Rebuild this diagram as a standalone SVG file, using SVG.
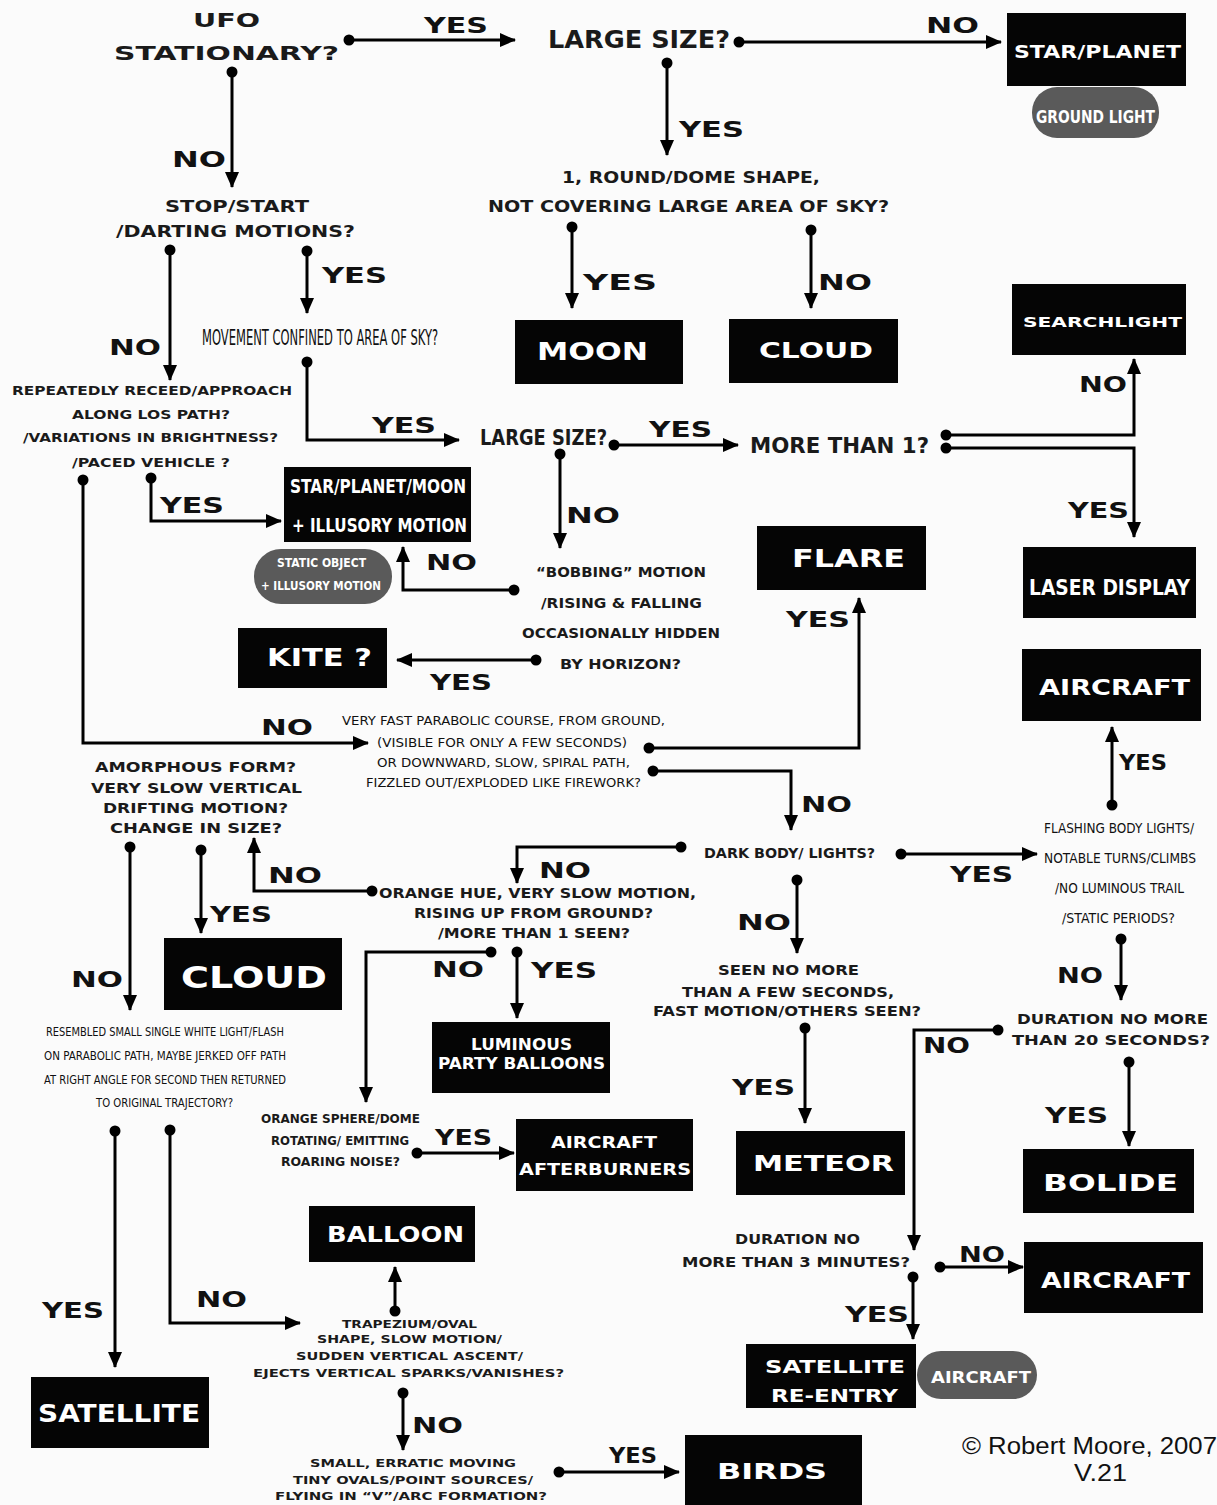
<svg xmlns="http://www.w3.org/2000/svg" width="1217" height="1505" viewBox="0 0 1217 1505">
<style>
.q{font-family:"DejaVu Sans","Liberation Sans",sans-serif;font-weight:bold;fill:#1a1a1a}
.qn{font-family:"DejaVu Sans","Liberation Sans",sans-serif;fill:#111}
.lb{font-family:"DejaVu Sans","Liberation Sans",sans-serif;font-weight:bold;font-size:22px;fill:#111}
.box{fill:#050505}
.pill{fill:#5a5a5a}
.bt{font-family:"DejaVu Sans","Liberation Sans",sans-serif;font-weight:bold;fill:#fff}
.e{fill:none;stroke:#000;stroke-width:3;marker-start:url(#dot);marker-end:url(#arr)}
.cp{font-family:"Liberation Sans",Arial,sans-serif;fill:#111;font-size:23px}
</style>
<defs>
<marker id="arr" viewBox="0 0 16 14" refX="15" refY="7" markerWidth="16" markerHeight="14" markerUnits="userSpaceOnUse" orient="auto"><path d="M0,0 L16,7 L0,14 z" fill="#000"/></marker>
<marker id="dot" viewBox="0 0 12 12" refX="6" refY="6" markerWidth="12" markerHeight="12" markerUnits="userSpaceOnUse"><circle cx="6" cy="6" r="5.5" fill="#000"/></marker>
</defs>
<rect x="0" y="0" width="1217" height="1505" fill="#fbfbfb"/>

<g id="connectors">
<path class="e" d="M349,40 H515"/>
<path class="e" d="M232,72 V187"/>
<path class="e" d="M739,42 H1001"/>
<path class="e" d="M667,63 V155"/>
<path class="e" d="M572,227 V308"/>
<path class="e" d="M811,230 V308"/>
<path class="e" d="M170,250 V380"/>
<path class="e" d="M307,251 V313"/>
<path class="e" d="M307,362 V440 H459"/>
<path class="e" d="M151,478 V521 H281"/>
<path class="e" d="M614,445 H738"/>
<path class="e" d="M946,435 H1134 V359"/>
<path class="e" d="M946,448 H1134 V537"/>
<path class="e" d="M560,454 V548"/>
<path class="e" d="M514,590 H403 V547"/>
<path class="e" d="M536,660 H397"/>
<path class="e" d="M83,480 V743 H368"/>
<path class="e" d="M649,748 H859 V598"/>
<path class="e" d="M653,771 H791 V830"/>
<path class="e" d="M681,847 H517 V883"/>
<path class="e" d="M372,891 H254 V838"/>
<path class="e" d="M130,847 V1010"/>
<path class="e" d="M201,850 V933"/>
<path class="e" d="M901,854 H1037"/>
<path class="e" d="M797,880 V953"/>
<path class="e" d="M1112,805 V727"/>
<path class="e" d="M1121,939 V1000"/>
<path class="e" d="M998,1030 H914 V1250"/>
<path class="e" d="M1129,1062 V1146"/>
<path class="e" d="M805,1028 V1123"/>
<path class="e" d="M491,952 H366 V1102"/>
<path class="e" d="M517,952 V1018"/>
<path class="e" d="M115,1131 V1367"/>
<path class="e" d="M170,1130 V1323 H300"/>
<path class="e" d="M417,1153 H514"/>
<path class="e" d="M395,1311 V1267"/>
<path class="e" d="M403,1393 V1450"/>
<path class="e" d="M559,1472 H679"/>
<path class="e" d="M940,1267 H1023"/>
<path class="e" d="M913,1277 V1339"/>

<text class="lb" x="424" y="33" textLength="64" lengthAdjust="spacingAndGlyphs">YES</text>
<text class="lb" x="926" y="33" textLength="53" lengthAdjust="spacingAndGlyphs">NO</text>
<text class="lb" x="172" y="167" textLength="54" lengthAdjust="spacingAndGlyphs">NO</text>
<text class="lb" x="679" y="137" textLength="65" lengthAdjust="spacingAndGlyphs">YES</text>
<text class="lb" x="583" y="290" textLength="74" lengthAdjust="spacingAndGlyphs">YES</text>
<text class="lb" x="818" y="290" textLength="54" lengthAdjust="spacingAndGlyphs">NO</text>
<text class="lb" x="109" y="355" textLength="52" lengthAdjust="spacingAndGlyphs">NO</text>
<text class="lb" x="322" y="283" textLength="65" lengthAdjust="spacingAndGlyphs">YES</text>
<text class="lb" x="372" y="433" textLength="64" lengthAdjust="spacingAndGlyphs">YES</text>
<text class="lb" x="160" y="513" textLength="64" lengthAdjust="spacingAndGlyphs">YES</text>
<text class="lb" x="649" y="437" textLength="63" lengthAdjust="spacingAndGlyphs">YES</text>
<text class="lb" x="1079" y="392" textLength="48" lengthAdjust="spacingAndGlyphs">NO</text>
<text class="lb" x="1068" y="518" textLength="61" lengthAdjust="spacingAndGlyphs">YES</text>
<text class="lb" x="566" y="523" textLength="54" lengthAdjust="spacingAndGlyphs">NO</text>
<text class="lb" x="426" y="570" textLength="51" lengthAdjust="spacingAndGlyphs">NO</text>
<text class="lb" x="430" y="690" textLength="62" lengthAdjust="spacingAndGlyphs">YES</text>
<text class="lb" x="786" y="627" textLength="64" lengthAdjust="spacingAndGlyphs">YES</text>
<text class="lb" x="261" y="735" textLength="52" lengthAdjust="spacingAndGlyphs">NO</text>
<text class="lb" x="801" y="812" textLength="51" lengthAdjust="spacingAndGlyphs">NO</text>
<text class="lb" x="539" y="878" textLength="52" lengthAdjust="spacingAndGlyphs">NO</text>
<text class="lb" x="268" y="883" textLength="54" lengthAdjust="spacingAndGlyphs">NO</text>
<text class="lb" x="950" y="882" textLength="63" lengthAdjust="spacingAndGlyphs">YES</text>
<text class="lb" x="737" y="930" textLength="54" lengthAdjust="spacingAndGlyphs">NO</text>
<text class="lb" x="1119" y="770" textLength="48" lengthAdjust="spacingAndGlyphs">YES</text>
<text class="lb" x="1057" y="983" textLength="46" lengthAdjust="spacingAndGlyphs">NO</text>
<text class="lb" x="923" y="1053" textLength="47" lengthAdjust="spacingAndGlyphs">NO</text>
<text class="lb" x="1045" y="1123" textLength="63" lengthAdjust="spacingAndGlyphs">YES</text>
<text class="lb" x="732" y="1095" textLength="63" lengthAdjust="spacingAndGlyphs">YES</text>
<text class="lb" x="71" y="987" textLength="52" lengthAdjust="spacingAndGlyphs">NO</text>
<text class="lb" x="210" y="922" textLength="62" lengthAdjust="spacingAndGlyphs">YES</text>
<text class="lb" x="432" y="977" textLength="52" lengthAdjust="spacingAndGlyphs">NO</text>
<text class="lb" x="531" y="978" textLength="66" lengthAdjust="spacingAndGlyphs">YES</text>
<text class="lb" x="42" y="1318" textLength="62" lengthAdjust="spacingAndGlyphs">YES</text>
<text class="lb" x="196" y="1307" textLength="51" lengthAdjust="spacingAndGlyphs">NO</text>
<text class="lb" x="435" y="1145" textLength="57" lengthAdjust="spacingAndGlyphs">YES</text>
<text class="lb" x="412" y="1433" textLength="51" lengthAdjust="spacingAndGlyphs">NO</text>
<text class="lb" x="609" y="1463" textLength="48" lengthAdjust="spacingAndGlyphs">YES</text>
<text class="lb" x="959" y="1262" textLength="46" lengthAdjust="spacingAndGlyphs">NO</text>
<text class="lb" x="845" y="1322" textLength="64" lengthAdjust="spacingAndGlyphs">YES</text>
</g>

<g id="q-ufo-stationary">
<text class="q" x="193" y="27" font-size="20" textLength="67" lengthAdjust="spacingAndGlyphs">UFO</text>
<text class="q" x="114" y="60" font-size="20" textLength="225" lengthAdjust="spacingAndGlyphs">STATIONARY?</text>
</g>
<g id="q-large-size-1">
<text class="q" x="548" y="48" font-size="25" textLength="182" lengthAdjust="spacingAndGlyphs">LARGE SIZE?</text>
</g>
<g id="r-star-planet">
<rect class="box" x="1007" y="13" width="179" height="73"/>
<text class="bt" x="1014" y="58" font-size="17" textLength="167" lengthAdjust="spacingAndGlyphs">STAR/PLANET</text>
<rect class="pill" x="1032" y="87" width="127" height="51" rx="25"/>
<text class="bt" x="1036" y="123" font-size="18" textLength="119" lengthAdjust="spacingAndGlyphs">GROUND LIGHT</text>
</g>
<g id="q-round-dome">
<text class="q" x="562" y="183" font-size="15.5" textLength="258" lengthAdjust="spacingAndGlyphs">1, ROUND/DOME SHAPE,</text>
<text class="q" x="488" y="212" font-size="15.5" textLength="401" lengthAdjust="spacingAndGlyphs">NOT COVERING LARGE AREA OF SKY?</text>
</g>
<g id="q-stop-start">
<text class="q" x="165" y="212" font-size="15" textLength="144" lengthAdjust="spacingAndGlyphs">STOP/START</text>
<text class="q" x="116" y="237" font-size="15" textLength="239" lengthAdjust="spacingAndGlyphs">/DARTING MOTIONS?</text>
</g>
<g id="r-moon">
<rect class="box" x="515" y="320" width="168" height="64"/>
<text class="bt" x="537" y="360" font-size="25" textLength="111" lengthAdjust="spacingAndGlyphs">MOON</text>
</g>
<g id="r-cloud-1">
<rect class="box" x="729" y="319" width="169" height="64"/>
<text class="bt" x="759" y="358" font-size="21.5" textLength="114" lengthAdjust="spacingAndGlyphs">CLOUD</text>
</g>
<g id="q-movement-confined">
<text class="qn" transform="translate(202,345) scale(0.52,1)" x="0" y="0" font-size="22" textLength="454" lengthAdjust="spacingAndGlyphs">MOVEMENT CONFINED TO AREA OF SKY?</text>
</g>
<g id="r-searchlight">
<rect class="box" x="1012" y="284" width="174" height="71"/>
<text class="bt" x="1023" y="327" font-size="14.5" textLength="159" lengthAdjust="spacingAndGlyphs">SEARCHLIGHT</text>
</g>
<g id="q-repeatedly">
<text class="q" x="12" y="395" font-size="13" textLength="280" lengthAdjust="spacingAndGlyphs">REPEATEDLY RECEED/APPROACH</text>
<text class="q" x="72" y="419" font-size="13" textLength="158" lengthAdjust="spacingAndGlyphs">ALONG LOS PATH?</text>
<text class="q" x="23" y="442" font-size="13" textLength="255" lengthAdjust="spacingAndGlyphs">/VARIATIONS IN BRIGHTNESS?</text>
<text class="q" x="72" y="467" font-size="13" textLength="158" lengthAdjust="spacingAndGlyphs">/PACED VEHICLE ?</text>
</g>
<g id="q-large-size-2">
<text class="q" x="480" y="445" font-size="20.5" textLength="127" lengthAdjust="spacingAndGlyphs">LARGE SIZE?</text>
</g>
<g id="q-more-than-1">
<text class="q" x="750" y="453" font-size="22" textLength="179" lengthAdjust="spacingAndGlyphs">MORE THAN 1?</text>
</g>
<g id="r-star-planet-moon">
<rect class="box" x="284" y="467" width="187" height="75"/>
<text class="bt" x="290" y="493" font-size="19" textLength="176" lengthAdjust="spacingAndGlyphs">STAR/PLANET/MOON</text>
<text class="bt" x="292" y="532" font-size="19" textLength="175" lengthAdjust="spacingAndGlyphs">+ ILLUSORY MOTION</text>
<rect class="pill" x="254" y="549" width="138" height="55" rx="27"/>
<text class="bt" x="277" y="567" font-size="12" textLength="89" lengthAdjust="spacingAndGlyphs">STATIC OBJECT</text>
<text class="bt" x="261" y="590" font-size="12" textLength="120" lengthAdjust="spacingAndGlyphs">+ ILLUSORY MOTION</text>
</g>
<g id="r-laser-display">
<rect class="box" x="1023" y="547" width="173" height="71"/>
<text class="bt" x="1029" y="595" font-size="21" textLength="161" lengthAdjust="spacingAndGlyphs">LASER DISPLAY</text>
</g>
<g id="r-flare">
<rect class="box" x="757" y="526" width="169" height="64"/>
<text class="bt" x="792" y="567" font-size="24" textLength="113" lengthAdjust="spacingAndGlyphs">FLARE</text>
</g>
<g id="q-bobbing">
<text class="q" x="536" y="577" font-size="14.5" textLength="170" lengthAdjust="spacingAndGlyphs">“BOBBING” MOTION</text>
<text class="q" x="541" y="608" font-size="14.5" textLength="161" lengthAdjust="spacingAndGlyphs">/RISING &amp; FALLING</text>
<text class="q" x="522" y="638" font-size="14.5" textLength="198" lengthAdjust="spacingAndGlyphs">OCCASIONALLY HIDDEN</text>
<text class="q" x="560" y="669" font-size="14.5" textLength="121" lengthAdjust="spacingAndGlyphs">BY  HORIZON?</text>
</g>
<g id="r-kite">
<rect class="box" x="238" y="628" width="149" height="60"/>
<text class="bt" x="267" y="666" font-size="24" textLength="105" lengthAdjust="spacingAndGlyphs">KITE ?</text>
</g>
<g id="r-aircraft-1">
<rect class="box" x="1022" y="649" width="179" height="72"/>
<text class="bt" x="1039" y="695" font-size="22" textLength="151" lengthAdjust="spacingAndGlyphs">AIRCRAFT</text>
</g>
<g id="q-parabolic">
<text class="qn" x="342" y="725" font-size="11.5" textLength="323" lengthAdjust="spacingAndGlyphs">VERY FAST PARABOLIC COURSE, FROM GROUND,</text>
<text class="qn" x="377" y="747" font-size="11.5" textLength="250" lengthAdjust="spacingAndGlyphs">(VISIBLE FOR ONLY A FEW SECONDS)</text>
<text class="qn" x="377" y="767" font-size="11.5" textLength="253" lengthAdjust="spacingAndGlyphs">OR DOWNWARD, SLOW, SPIRAL PATH,</text>
<text class="qn" x="366" y="787" font-size="11.5" textLength="275" lengthAdjust="spacingAndGlyphs">FIZZLED OUT/EXPLODED LIKE FIREWORK?</text>
</g>
<g id="q-amorphous">
<text class="q" x="95" y="772" font-size="14.5" textLength="201" lengthAdjust="spacingAndGlyphs">AMORPHOUS FORM?</text>
<text class="q" x="91" y="793" font-size="14.5" textLength="211" lengthAdjust="spacingAndGlyphs">VERY SLOW VERTICAL</text>
<text class="q" x="103" y="813" font-size="14.5" textLength="185" lengthAdjust="spacingAndGlyphs">DRIFTING MOTION?</text>
<text class="q" x="110" y="833" font-size="14.5" textLength="172" lengthAdjust="spacingAndGlyphs">CHANGE IN SIZE?</text>
</g>
<g id="q-dark-body">
<text class="q" x="704" y="858" font-size="14.5" textLength="171" lengthAdjust="spacingAndGlyphs">DARK  BODY/ LIGHTS?</text>
</g>
<g id="q-orange-hue">
<text class="q" x="379" y="898" font-size="14.5" textLength="317" lengthAdjust="spacingAndGlyphs">ORANGE HUE, VERY SLOW MOTION,</text>
<text class="q" x="414" y="918" font-size="14.5" textLength="239" lengthAdjust="spacingAndGlyphs">RISING UP FROM GROUND?</text>
<text class="q" x="438" y="938" font-size="14.5" textLength="192" lengthAdjust="spacingAndGlyphs">/MORE THAN 1  SEEN?</text>
</g>
<g id="q-flashing">
<text class="qn" x="1044" y="833" font-size="14" textLength="150" lengthAdjust="spacingAndGlyphs">FLASHING BODY LIGHTS/</text>
<text class="qn" x="1044" y="863" font-size="14" textLength="152" lengthAdjust="spacingAndGlyphs">NOTABLE TURNS/CLIMBS</text>
<text class="qn" x="1055" y="893" font-size="14" textLength="129" lengthAdjust="spacingAndGlyphs">/NO LUMINOUS TRAIL</text>
<text class="qn" x="1062" y="923" font-size="14" textLength="113" lengthAdjust="spacingAndGlyphs">/STATIC PERIODS?</text>
</g>
<g id="r-cloud-2">
<rect class="box" x="164" y="938" width="178" height="72"/>
<text class="bt" x="181" y="988" font-size="31" textLength="146" lengthAdjust="spacingAndGlyphs">CLOUD</text>
</g>
<g id="q-seen-no-more">
<text class="q" x="718" y="975" font-size="13.5" textLength="141" lengthAdjust="spacingAndGlyphs">SEEN NO MORE</text>
<text class="q" x="682" y="997" font-size="13.5" textLength="212" lengthAdjust="spacingAndGlyphs">THAN A FEW SECONDS,</text>
<text class="q" x="653" y="1016" font-size="13.5" textLength="268" lengthAdjust="spacingAndGlyphs">FAST MOTION/OTHERS SEEN?</text>
</g>
<g id="q-duration-20">
<text class="q" x="1017" y="1024" font-size="14.5" textLength="191" lengthAdjust="spacingAndGlyphs">DURATION NO MORE</text>
<text class="q" x="1012" y="1045" font-size="14.5" textLength="198" lengthAdjust="spacingAndGlyphs">THAN 20 SECONDS?</text>
</g>
<g id="r-party-balloons">
<rect class="box" x="432" y="1022" width="178" height="71"/>
<text class="bt" x="471" y="1050" font-size="15" textLength="101" lengthAdjust="spacingAndGlyphs">LUMINOUS</text>
<text class="bt" x="438" y="1069" font-size="15" textLength="167" lengthAdjust="spacingAndGlyphs">PARTY BALLOONS</text>
</g>
<g id="q-resembled">
<text class="qn" x="46" y="1036" font-size="13" textLength="238" lengthAdjust="spacingAndGlyphs">RESEMBLED SMALL SINGLE WHITE LIGHT/FLASH</text>
<text class="qn" x="44" y="1060" font-size="13" textLength="242" lengthAdjust="spacingAndGlyphs">ON  PARABOLIC PATH, MAYBE JERKED OFF PATH</text>
<text class="qn" x="44" y="1084" font-size="13" textLength="242" lengthAdjust="spacingAndGlyphs">AT RIGHT ANGLE FOR  SECOND THEN RETURNED</text>
<text class="qn" x="96" y="1107" font-size="13" textLength="137" lengthAdjust="spacingAndGlyphs">TO ORIGINAL TRAJECTORY?</text>
</g>
<g id="q-orange-sphere">
<text class="q" x="261" y="1123" font-size="12.5" textLength="159" lengthAdjust="spacingAndGlyphs">ORANGE SPHERE/DOME</text>
<text class="q" x="271" y="1145" font-size="12.5" textLength="138" lengthAdjust="spacingAndGlyphs">ROTATING/ EMITTING</text>
<text class="q" x="281" y="1166" font-size="12.5" textLength="119" lengthAdjust="spacingAndGlyphs">ROARING NOISE?</text>
</g>
<g id="r-afterburners">
<rect class="box" x="516" y="1119" width="177" height="72"/>
<text class="bt" x="551" y="1148" font-size="16" textLength="106" lengthAdjust="spacingAndGlyphs">AIRCRAFT</text>
<text class="bt" x="519" y="1175" font-size="16" textLength="172" lengthAdjust="spacingAndGlyphs">AFTERBURNERS</text>
</g>
<g id="r-meteor">
<rect class="box" x="736" y="1131" width="169" height="64"/>
<text class="bt" x="753" y="1171" font-size="22" textLength="141" lengthAdjust="spacingAndGlyphs">METEOR</text>
</g>
<g id="r-bolide">
<rect class="box" x="1023" y="1149" width="171" height="64"/>
<text class="bt" x="1043" y="1191" font-size="23" textLength="135" lengthAdjust="spacingAndGlyphs">BOLIDE</text>
</g>
<g id="r-balloon">
<rect class="box" x="309" y="1206" width="166" height="56"/>
<text class="bt" x="327" y="1242" font-size="21" textLength="137" lengthAdjust="spacingAndGlyphs">BALLOON</text>
</g>
<g id="q-duration-3">
<text class="q" x="735" y="1244" font-size="13.5" textLength="125" lengthAdjust="spacingAndGlyphs">DURATION NO</text>
<text class="q" x="682" y="1267" font-size="13.5" textLength="228" lengthAdjust="spacingAndGlyphs">MORE THAN 3 MINUTES?</text>
</g>
<g id="r-aircraft-2">
<rect class="box" x="1024" y="1242" width="179" height="71"/>
<text class="bt" x="1041" y="1288" font-size="22" textLength="149" lengthAdjust="spacingAndGlyphs">AIRCRAFT</text>
</g>
<g id="q-trapezium">
<text class="q" x="342" y="1328" font-size="11" textLength="135" lengthAdjust="spacingAndGlyphs">TRAPEZIUM/OVAL</text>
<text class="q" x="317" y="1343" font-size="11" textLength="185" lengthAdjust="spacingAndGlyphs">SHAPE, SLOW MOTION/</text>
<text class="q" x="296" y="1360" font-size="11" textLength="227" lengthAdjust="spacingAndGlyphs">SUDDEN VERTICAL ASCENT/</text>
<text class="q" x="253" y="1377" font-size="11" textLength="311" lengthAdjust="spacingAndGlyphs">EJECTS VERTICAL SPARKS/VANISHES?</text>
</g>
<g id="r-satellite-reentry">
<rect class="box" x="746" y="1344" width="170" height="64"/>
<text class="bt" x="765" y="1373" font-size="17.5" textLength="140" lengthAdjust="spacingAndGlyphs">SATELLITE</text>
<text class="bt" x="771" y="1402" font-size="17" textLength="127" lengthAdjust="spacingAndGlyphs">RE-ENTRY</text>
<rect class="pill" x="917" y="1351" width="120" height="48" rx="24"/>
<text class="bt" x="931" y="1383" font-size="15" textLength="100" lengthAdjust="spacingAndGlyphs">AIRCRAFT</text>
</g>
<g id="r-satellite">
<rect class="box" x="31" y="1377" width="178" height="71"/>
<text class="bt" x="38" y="1422" font-size="24" textLength="162" lengthAdjust="spacingAndGlyphs">SATELLITE</text>
</g>
<g id="q-small-erratic">
<text class="q" x="310" y="1467" font-size="11" textLength="206" lengthAdjust="spacingAndGlyphs">SMALL, ERRATIC MOVING</text>
<text class="q" x="293" y="1484" font-size="11" textLength="240" lengthAdjust="spacingAndGlyphs">TINY OVALS/POINT SOURCES/</text>
<text class="q" x="275" y="1500" font-size="11" textLength="272" lengthAdjust="spacingAndGlyphs">FLYING IN “V”/ARC FORMATION?</text>
</g>
<g id="r-birds">
<rect class="box" x="685" y="1435" width="177" height="70"/>
<text class="bt" x="717" y="1479" font-size="20.5" textLength="110" lengthAdjust="spacingAndGlyphs">BIRDS</text>
</g>
<g id="credit">
<text class="cp" x="962" y="1454" textLength="255" lengthAdjust="spacingAndGlyphs">© Robert Moore, 2007</text>
<text class="cp" x="1074" y="1481" textLength="53" lengthAdjust="spacingAndGlyphs">V.21</text>
</g>
</svg>
